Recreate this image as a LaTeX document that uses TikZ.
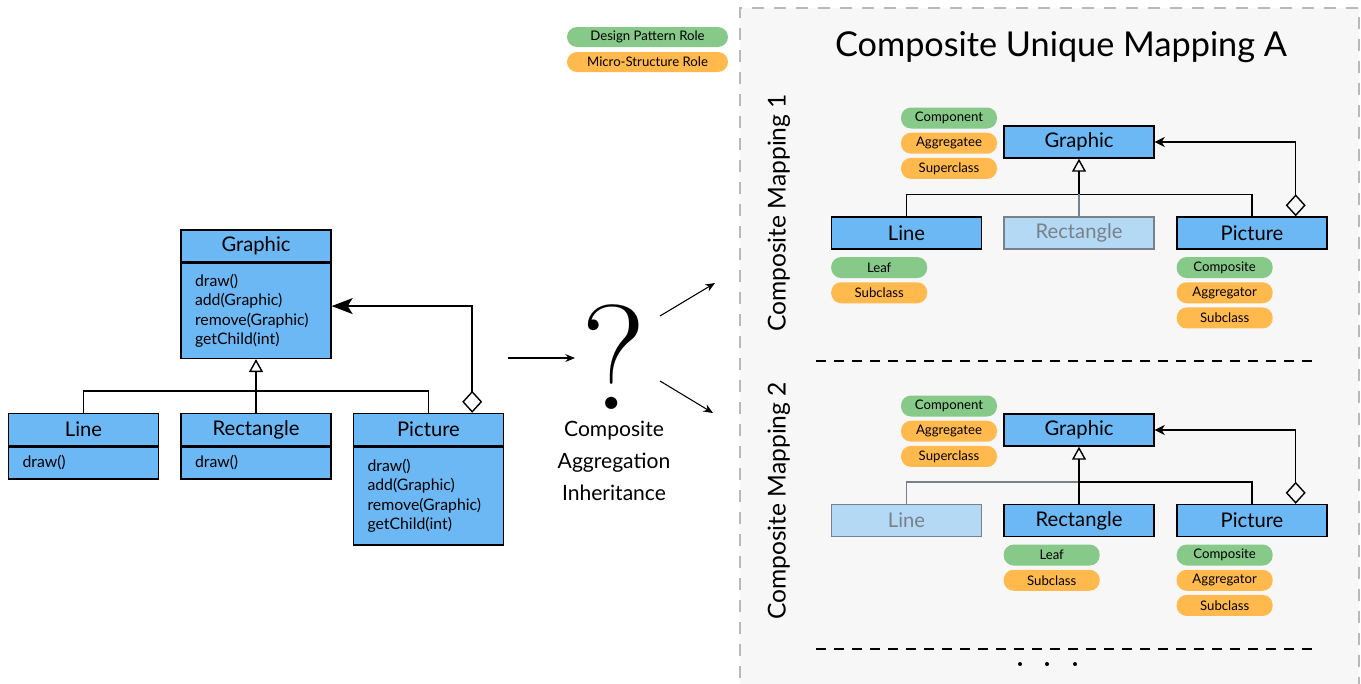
\documentclass[tikz,border=0pt]{standalone}
\usepackage{fontspec}
\setsansfont{Lato}
\usetikzlibrary{arrows.meta,positioning,calc}

\definecolor{classblue}{RGB}{107,184,245}
\definecolor{fadeblue}{RGB}{180,217,245}
\definecolor{fadegray}{RGB}{120,128,138}
\definecolor{rolegreen}{RGB}{134,201,137}
\definecolor{roleorange}{RGB}{255,185,77}
\definecolor{panelgray}{RGB}{247,247,247}
\definecolor{panelline}{RGB}{185,185,185}

\tikzset{
  class/.style={rectangle,draw,thick,fill=classblue,minimum width=3cm,
    minimum height=0.64cm,inner sep=0pt,font=\sffamily\fontsize{11.5}{13}\selectfont},
  faded/.style={draw=fadegray,fill=fadeblue,text=fadegray},
  methods/.style={rectangle,draw,thick,fill=classblue,text width=2.44cm,
    inner xsep=0.28cm,inner ysep=0pt,align=left,font=\sffamily\fontsize{9}{11}\selectfont},
  role/.style={rectangle,rounded corners=0.2cm,minimum width=1.92cm,
    minimum height=0.42cm,inner sep=0pt,font=\sffamily\fontsize{7.5}{8.5}\selectfont},
  dp role/.style={role,fill=rolegreen},
  ms role/.style={role,fill=roleorange},
  link/.style={thick},
  inh/.style={thick,-{Triangle[open,length=0.26cm,width=0.28cm]}},
  agg/.style={thick,{Diamond[open,length=0.44cm,width=0.4cm]}-{Stealth[length=0.42cm,width=0.32cm,inset=0.1cm]}},
  agg small/.style={thick,{Diamond[open,length=0.44cm,width=0.4cm]}-{Stealth[length=0.2cm,width=0.2cm,inset=0.06cm]}},
  sep/.style={line width=0.85pt,dash pattern=on 0.2cm off 0.16cm}
}

\begin{document}
\begin{tikzpicture}[x=0.02cm,y=-0.02cm,>={Stealth[length=5.5pt,width=4.5pt]},
  every node/.style={font=\sffamily}]

  \useasboundingbox (0,0) rectangle (1361,683);

  % panel on the right
  \fill[panelgray] (740,8) rectangle (1359,700);
  \draw[panelline,line width=1pt,dash pattern=on 0.24cm off 0.2cm] (740,700) -- (740,8) -- (1359,8) -- (1359,700);

  % legend
  \node[dp role,minimum width=3.22cm,minimum height=0.4cm] (legdp) at (647.5,37) {Design Pattern Role};
  \node[ms role,minimum width=3.22cm,minimum height=0.4cm] (legms) at (647.5,62) {Micro-Structure Role};

  % the class diagram
  \node[class] (gH) at (256,246) {Graphic};
  \node[methods,minimum height=1.9cm,below=0pt of gH] (gB)
    {draw()\\add(Graphic)\\remove(Graphic)\\getChild(int)};
  \node[class] (lH) at (83.5,429.5) {Line};
  \node[methods,minimum height=0.64cm,below=0pt of lH] (lB) {draw()};
  \node[class] (rH) at (256,429.5) {Rectangle};
  \node[methods,minimum height=0.64cm,below=0pt of rH] (rB) {draw()};
  \node[class] (pH) at (428.5,429.5) {Picture};
  \node[methods,minimum height=1.96cm,below=0pt of pH] (pB)
    {draw()\\add(Graphic)\\remove(Graphic)\\getChild(int)};

  \draw[inh] (rH.north) -- (gB.south);
  \draw[link] (lH.north) |- ($(pH.north)+(0,-22)$) -- (pH.north);
  \draw[agg] ($(pH.north east)+(-32,0)$) |- ($(gB.north east)!0.45!(gB.south east)$);

  % question
  \node[inner sep=0pt,font=\rmfamily\fontsize{85}{85}\selectfont] (q) at (614,357.5) {?};
  \node[inner sep=0pt,align=center,font=\sffamily\fontsize{12}{18}\selectfont] (qlab) at (614,461)
    {Composite\\Aggregation\\Inheritance};
  \coordinate (qin) at (508,358);
  \coordinate (qend) at (575,358);
  \coordinate (qa) at (660,316);
  \coordinate (qb) at (660,381);
  \coordinate (m1) at (715,283);
  \coordinate (m2) at (713,413);
  \draw[semithick,->] (qin) -- (qend);
  \draw[semithick,->] (qa) -- (m1);
  \draw[semithick,->] (qb) -- (m2);

  \node[font=\sffamily\fontsize{19.5}{22}\selectfont] (title) at (1061,47) {Composite Unique Mapping A};

  % mapping 1
  \node[rotate=90,font=\sffamily\fontsize{14}{16}\selectfont] (name1) at (779,213) {Composite Mapping 1};
  \node[class] (graphic1) at (1079,142) {Graphic};
  \node[class] (line1) at (906.5,233) {Line};
  \node[class,faded] (rect1) at (1079,233) {Rectangle};
  \node[class] (pic1) at (1252,233) {Picture};
  \node[dp role] (comp1) at (949,118) {Component};
  \node[ms role,below=0.07cm of comp1] (aggee1) {Aggregatee};
  \node[ms role,below=0.07cm of aggee1] (super1) {Superclass};
  \node[dp role,below=0.14cm of line1.south west,anchor=north west] (leaf1) {Leaf};
  \node[ms role,below=0.07cm of leaf1] (sub1) {Subclass};
  \node[dp role,below=0.14cm of pic1.south west,anchor=north west] (compo1) {Composite};
  \node[ms role,below=0.07cm of compo1] (aggor1) {Aggregator};
  \node[ms role,below=0.07cm of aggor1] (subpic1) {Subclass};

  \draw[link] (line1.north) |- ($(pic1.north)+(0,-22)$) -- (pic1.north);
  \draw[link,fadegray] (rect1.north) -- ($(rect1.north)+(0,-22)$);
  \draw[inh] ($(rect1.north)+(0,-22)$) -- (graphic1.south);
  \draw[agg small] ($(pic1.north east)+(-32,0)$) |- (graphic1.east);

  \draw[sep] (816,361) -- (1318,361);

  % mapping 2
  \node[rotate=90,font=\sffamily\fontsize{14}{16}\selectfont] (name2) at (779,501) {Composite Mapping 2};
  \node[class] (graphic2) at (1079,430) {Graphic};
  \node[class,faded] (line2) at (906.5,520.5) {Line};
  \node[class] (rect2) at (1079,520.5) {Rectangle};
  \node[class] (pic2) at (1252,520.5) {Picture};
  \node[dp role] (comp2) at (949,406) {Component};
  \node[ms role,below=0.07cm of comp2] (aggee2) {Aggregatee};
  \node[ms role,below=0.07cm of aggee2] (super2) {Superclass};
  \node[dp role,below=0.14cm of rect2.south west,anchor=north west] (leaf2) {Leaf};
  \node[ms role,below=0.07cm of leaf2] (sub2) {Subclass};
  \node[dp role,below=0.14cm of pic2.south west,anchor=north west] (compo2) {Composite};
  \node[ms role,below=0.07cm of compo2] (aggor2) {Aggregator};
  \node[ms role,below=0.07cm of aggor2] (subpic2) {Subclass};

  \draw[link,fadegray] (line2.north) |- ($(rect2.north)+(0,-22)$);
  \draw[link] ($(rect2.north)+(0,-22)$) -| (pic2.north);
  \draw[inh] (rect2.north) -- (graphic2.south);
  \draw[agg small] ($(pic2.north east)+(-32,0)$) |- (graphic2.east);

  \draw[sep] (816,649) -- (1318,649);
  \foreach \x in {1020,1047,1075}
    \fill (\x,664) circle (2);
\end{tikzpicture}
\end{document}
